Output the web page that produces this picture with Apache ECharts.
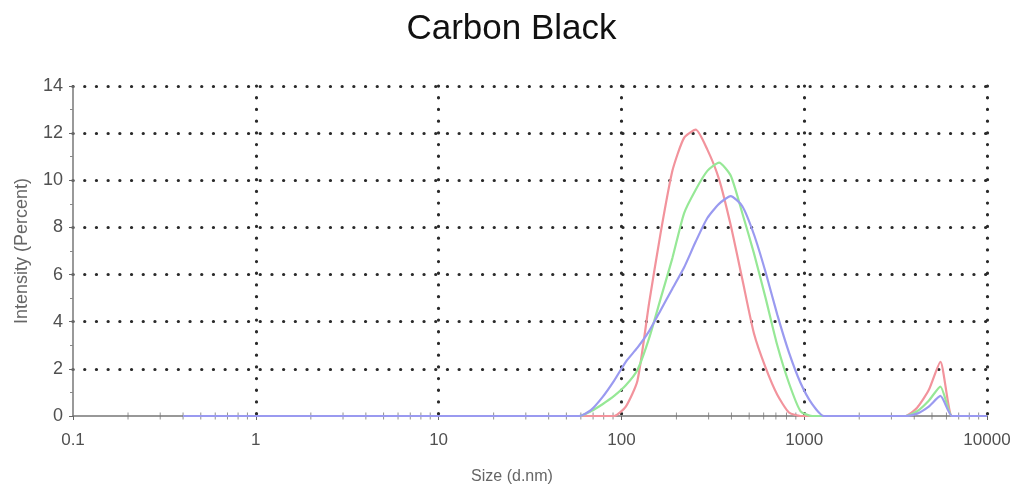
<!DOCTYPE html>
<html>
<head>
<meta charset="utf-8">
<title>Carbon Black</title>
<script src="https://cdn.jsdelivr.net/npm/echarts@6/dist/echarts.min.js"></script>
<style>
	html, body { margin: 0; padding: 0; background: #fff; }
	#main { width: 1023px; height: 493px; }
</style>
</head>
<body>
<div id="main"></div>
<script>
	// size classes (d.nm), 70 log bins
	var sizes = [0.4, 0.4632, 0.5365, 0.6213, 0.7195, 0.8332, 0.9649, 1.117, 1.294, 1.499,
		1.736, 2.01, 2.328, 2.696, 3.122, 3.615, 4.187, 4.849, 5.615, 6.503,
		7.531, 8.721, 10.1, 11.7, 13.54, 15.69, 18.17, 21.04, 24.36, 28.21,
		32.67, 37.84, 43.82, 50.75, 58.77, 68.06, 78.82, 91.28, 105.7, 122.4,
		141.8, 164.2, 190.1, 220.2, 255.0, 295.3, 342.0, 396.1, 458.7, 531.2,
		615.1, 712.4, 825.0, 955.4, 1106, 1281, 1484, 1718, 1990, 2305,
		2669, 3091, 3580, 4145, 4801, 5560, 6439, 7456, 8635, 10000];

	// intensity (percent) per record
	var red = [0, 0, 0, 0, 0, 0, 0, 0, 0, 0,
		0, 0, 0, 0, 0, 0, 0, 0, 0, 0,
		0, 0, 0, 0, 0, 0, 0, 0, 0, 0,
		0, 0, 0, 0, 0, 0, 0, 0, 0.4, 1.5,
		4.8, 7.8, 10.4, 11.8, 12.15, 11.3, 10.05, 8.1, 5.8, 3.5,
		2.05, 0.9, 0.15, 0, 0, 0, 0, 0, 0, 0,
		0, 0, 0, 0.35, 1.1, 2.3, 0, 0, 0, 0];

	var green = [0, 0, 0, 0, 0, 0, 0, 0, 0, 0,
		0, 0, 0, 0, 0, 0, 0, 0, 0, 0,
		0, 0, 0, 0, 0, 0, 0, 0, 0, 0,
		0, 0, 0, 0, 0, 0.2, 0.5, 0.85, 1.3, 1.95,
		3.3, 5.0, 6.7, 8.6, 9.6, 10.4, 10.75, 10.2, 8.6, 6.9,
		5.0, 3.0, 1.4, 0.2, 0, 0, 0, 0, 0, 0,
		0, 0, 0, 0.2, 0.65, 1.25, 0, 0, 0, 0];

	var blue = [0, 0, 0, 0, 0, 0, 0, 0, 0, 0,
		0, 0, 0, 0, 0, 0, 0, 0, 0, 0,
		0, 0, 0, 0, 0, 0, 0, 0, 0, 0,
		0, 0, 0, 0, 0, 0.25, 0.8, 1.5, 2.3, 2.9,
		3.6, 4.5, 5.4, 6.3, 7.4, 8.4, 9.0, 9.33, 8.9, 7.7,
		6.1, 4.3, 2.7, 1.4, 0.5, 0, 0, 0, 0, 0,
		0, 0, 0, 0.1, 0.4, 0.85, 0, 0, 0, 0];

	var decades = [0.1, 1, 10, 100, 1000];
	var minor_steps = [2, 3, 4, 5, 6, 7, 8, 9];

	function pairs(vals) {
		var out = [];
		for (var i = 0; i < sizes.length; i++) {
			out.push([sizes[i], vals[i]]);
		}
		return out;
	}

	/* small log ticks on the size axis (2..9 of each decade) */
	var minor_ticks = [];
	for (var d = 0; d < decades.length; d++) {
		for (var m = 0; m < minor_steps.length; m++) {
			minor_ticks.push([decades[d] * minor_steps[m], 0]);
		}
	}

	var dotted = {
		color: '#2a2a2a',
		width: 3.2,
		type: [0.1, 11.6],
		cap: 'round'
	};

	function curve(name, color, vals) {
		return {
			type: 'line',
			name: name,
			showSymbol: false,
			smooth: 0.2,
			lineStyle: { color: color, width: 2.2 },
			data: pairs(vals)
		};
	}

	var myChart = echarts.init(document.getElementById('main'));

	var option = {
		animation: false,
		title: {
			text: 'Carbon Black',
			left: 'center',
			top: 7,
			textStyle: {
				fontFamily: 'Liberation Sans',
				fontSize: 35,
				fontWeight: 'normal',
				color: '#111'
			}
		},
		grid: {
			left: 73,
			right: 36,
			top: 86,
			bottom: 77
		},
		xAxis: {
			type: 'log',
			logBase: 10,
			min: 0.1,
			max: 10000,
			name: 'Size (d.nm)',
			nameLocation: 'middle',
			nameGap: 53,
			nameTextStyle: {
				fontFamily: 'Liberation Sans',
				fontSize: 16,
				color: '#666',
				padding: [0, 36, 0, 0]
			},
			axisLine: { lineStyle: { color: '#777', width: 1.5 } },
			axisTick: { show: true, length: 4, lineStyle: { color: '#666' } },
			axisLabel: {
				margin: 16,
				fontFamily: 'Liberation Sans',
				fontSize: 17,
				color: '#505050',
				formatter: function (v) { return String(v); }
			},
			splitLine: { show: true, showMinLine: false, lineStyle: dotted }
		},
		yAxis: {
			type: 'value',
			min: 0,
			max: 14,
			interval: 2,
			name: 'Intensity (Percent)',
			nameLocation: 'middle',
			nameGap: 42,
			nameTextStyle: {
				fontFamily: 'Liberation Sans',
				fontSize: 18,
				color: '#666'
			},
			axisLine: { show: true, lineStyle: { color: '#777', width: 1.5 } },
			axisTick: { show: true, length: 4, lineStyle: { color: '#666' } },
			minorTick: { show: true, splitNumber: 2, length: 3, lineStyle: { color: '#888' } },
			axisLabel: {
				margin: 10,
				fontFamily: 'Liberation Sans',
				fontSize: 18,
				color: '#505050'
			},
			splitLine: { show: true, showMinLine: false, lineStyle: dotted }
		},
		series: [{
			type: 'scatter',
			silent: true,
			symbol: 'rect',
			symbolSize: [1, 7],
			itemStyle: { color: '#777' },
			z: 1,
			data: minor_ticks
		},
			curve('Record 1', '#f2939c', red),
			curve('Record 2', '#96e896', green),
			curve('Record 3', '#9a9af0', blue)
		]
	};

	myChart.setOption(option);
</script>
</body>
</html>
